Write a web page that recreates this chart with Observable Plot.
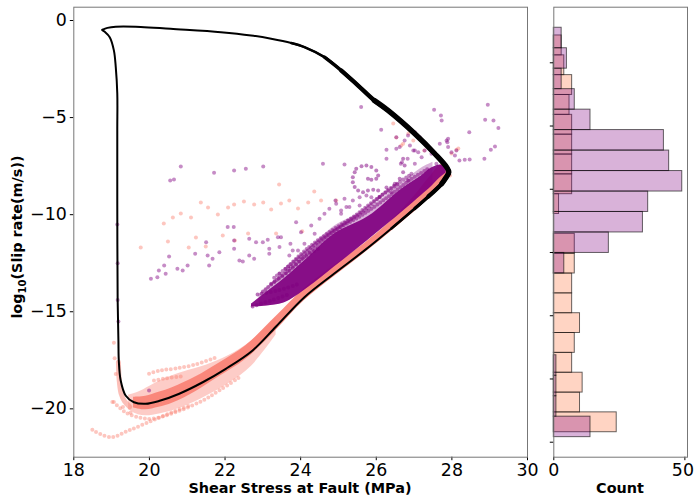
<!DOCTYPE html>
<html><head><meta charset="utf-8">
<script src="https://cdn.jsdelivr.net/npm/d3@7"></script>
<script src="https://cdn.jsdelivr.net/npm/@observablehq/plot@0.6"></script>
<style>
body{margin:0;background:#fff;}
#wrap{position:relative;width:694px;height:499px;overflow:hidden;font-family:"DejaVu Sans",sans-serif;}
#main{position:absolute;left:0;top:0;}
#hist{position:absolute;left:540px;top:0;}
svg{overflow:visible}
</style></head><body><div id="wrap"><div id="main"></div><div id="hist"></div></div>
<script>
// ---- axis ticks / labels ----
const xTicks = [18, 20, 22, 24, 26, 28, 30];
const yTicks = [0, -5, -10, -15, -20];
const xLabel = "Shear Stress at Fault (MPa)";
const yLabelParts = ["log", "10", "(Slip rate(m/s))"];
const histLabel = "Count";
const histXTicks = [0, 50];
const histYTicks = [0, 1, 2, 3, 4, 5, 6];

// ---- limit cycle (black) ----
const cycleX = [18.75, 18.89, 19.11, 19.77, 20.56, 21.89, 22.69, 23.22, 23.75, 24.10, 24.63, 25.07, 25.52, 25.95, 26.31, 27.02, 27.55, 27.86, 27.92, 27.83, 27.73, 27.38, 27.02, 26.40, 25.69, 24.89, 24.10, 23.35, 22.73, 22.02, 21.41, 20.79, 20.25, 19.90, 19.59, 19.37, 19.24, 19.19, 19.18, 19.16, 19.15, 19.15, 19.15, 19.11, 19.06, 18.95, 18.81, 18.75];
const cycleY = [-0.48, -0.38, -0.32, -0.33, -0.43, -0.60, -0.77, -0.94, -1.16, -1.37, -1.89, -2.57, -3.35, -4.12, -4.63, -5.83, -6.86, -7.55, -7.81, -8.13, -8.41, -9.06, -9.68, -10.71, -11.84, -13.03, -14.25, -15.76, -16.99, -17.94, -18.63, -19.22, -19.60, -19.74, -19.66, -19.31, -18.54, -17.51, -16.48, -14.42, -9.27, -5.66, -3.76, -2.40, -1.54, -0.86, -0.57, -0.48];

// ---- salmon run ----
const salmonBandX  = [19.58, 19.90, 20.25, 20.62, 21.23, 21.84, 22.55, 23.35, 24.10, 24.89, 25.69, 26.40, 27.02, 27.38, 27.73, 27.92];
const salmonBandLo = [-19.95, -20.05, -19.92, -19.70, -19.10, -18.35, -17.45, -15.95, -14.42, -13.18, -11.98, -10.85, -9.83, -9.20, -8.53, -7.92];
const salmonBandHi = [-19.40, -19.35, -19.15, -18.90, -18.35, -17.65, -16.75, -15.25, -13.80, -12.62, -11.48, -10.30, -9.01, -8.14, -7.41, -7.57];
const salmonHazeX  = [19.45, 19.70, 20.00, 20.40, 20.90, 21.50, 22.10, 22.70, 23.35];
const salmonHazeLo = [-20.05, -20.30, -20.35, -20.20, -19.90, -19.35, -18.70, -17.80, -16.20];
const salmonHazeHi = [-19.30, -19.15, -18.85, -18.45, -18.10, -17.75, -17.25, -16.50, -15.30];
const salmonBendX = [19.18, 19.20, 19.25, 19.34, 19.48];
const salmonBendY = [-17.6, -18.5, -19.2, -19.6, -19.9];
const salmonLowX = [19.06, 19.37, 19.75, 20.08, 20.70, 21.41, 21.85, 22.42];
const salmonLowY = [-19.65, -20.19, -20.45, -20.51, -20.17, -19.57, -19.05, -18.33];
const salmonTailX = [18.49, 18.97, 19.46, 20.08, 20.61, 21.10];
const salmonTailY = [-21.08, -21.46, -21.11, -20.60, -20.17, -19.80];
const salmonUp1X = [19.99, 20.30, 20.70, 21.23, 21.76];
const salmonUp1Y = [-18.19, -18.02, -17.92, -17.71, -17.35];
const salmonUp2X = [20.12, 20.43, 20.83];
const salmonUp2Y = [-18.54, -18.43, -18.33];
const salmonDotX = [21.36, 21.55, 21.81, 22.08, 22.24, 22.50, 22.77, 23.01, 23.22, 23.43, 23.48, 23.70, 23.93, 24.20, 24.36, 24.54, 24.94, 20.38, 20.62, 20.83, 21.10, 19.77, 20.49, 21.04, 21.23, 21.49, 21.94, 22.61, 23.35, 24.04, 22.26, 26.45, 26.85, 26.53, 26.66, 26.98, 27.27, 28.17, 27.99, 26.71, 28.12, 27.95, 19.06, 19.11, 19.02, 19.08, 19.30, 19.50];
const salmonDotY = [-9.37, -9.63, -9.99, -9.63, -9.47, -9.32, -9.47, -9.37, -9.73, -8.44, -9.42, -9.27, -9.68, -9.37, -8.81, -9.27, -9.27, -10.45, -10.14, -9.94, -10.14, -11.69, -11.38, -11.69, -11.17, -11.64, -11.07, -10.97, -10.97, -10.86, -11.33, -5.30, -5.82, -6.02, -6.44, -6.18, -6.69, -6.59, -6.85, -6.35, -6.66, -7.98, -16.6, -18.2, -19.65, -17.4, -19.9, -20.2];

// ---- purple run ----
const purpleBandX  = [22.70, 23.10, 23.56, 24.20, 24.89, 25.79, 26.66, 27.20, 27.46, 27.72, 27.85];
const purpleBandLo = [-14.75, -14.70, -14.55, -13.75, -12.70, -11.30, -9.90, -9.00, -8.55, -8.05, -7.85];
const purpleBandHi = [-14.60, -14.00, -13.30, -12.20, -11.00, -10.10, -8.70, -8.00, -7.60, -7.45, -7.65];
const purpleHazeX  = [22.90, 23.60, 24.20, 24.89, 25.79, 26.66, 27.20, 27.50];
const purpleHazeLo = [-14.75, -14.50, -13.75, -12.70, -11.30, -9.90, -9.00, -8.50];
const purpleHazeHi = [-14.10, -12.90, -11.80, -10.60, -9.70, -8.40, -7.60, -7.30];
const haze1X = [23.0, 23.6, 24.2, 24.9, 25.6, 26.3, 26.9, 27.4], haze1Y = [-13.95, -13.0, -12.0, -10.85, -10.05, -9.1, -8.2, -7.6];
const haze2X = [23.3, 23.9, 24.5, 25.1, 25.7, 26.3, 26.9], haze2Y = [-13.25, -12.3, -11.35, -10.55, -9.75, -8.75, -7.95];
const haze3X = [23.6, 24.2, 24.8, 25.4, 26.0, 26.6], haze3Y = [-12.8, -11.7, -10.85, -10.1, -9.2, -8.4];
const finger1X = [22.73, 23.22, 23.70], finger1Y = [-14.73, -14.42, -14.10];
const finger2X = [22.86, 23.40, 23.90], finger2Y = [-14.11, -13.90, -13.60];
const finger3X = [23.22, 23.66, 24.10, 24.50], finger3Y = [-13.56, -12.96, -12.19, -11.70];
const spiralX = [25.78, 25.87, 26.00, 26.05, 26.00, 25.87, 25.74, 25.61, 25.47, 25.43, 25.38, 25.38, 25.43, 25.52, 25.65, 25.78, 25.92, 26.05, 26.27, 26.49, 26.62, 26.71, 26.75, 26.71];
const spiralY = [-8.15, -8.20, -8.15, -7.98, -7.72, -7.55, -7.47, -7.50, -7.64, -7.81, -8.07, -8.33, -8.58, -8.75, -8.84, -8.75, -8.72, -8.75, -8.60, -8.41, -8.15, -7.81, -7.47, -7.12];
const purpleDotX = [25.60, 26.13, 27.53, 27.71, 27.73, 28.95, 28.88, 29.10, 29.23, 28.46, 27.90, 27.88, 29.14, 29.03, 28.86, 28.34, 28.20, 28.47, 28.08, 27.99, 27.90, 26.53, 26.65, 26.27, 26.75, 27.02, 24.59, 25.16,
  20.83, 21.71, 22.24, 22.55, 23.01, 20.55, 20.65, 22.07, 22.23,
  20.04, 20.21, 20.25, 20.39, 20.52, 20.43, 20.74, 20.88, 21.01, 21.21, 21.54, 21.58, 21.85, 22.38, 22.64, 22.77, 23.17, 23.44, 23.70,
  21.50, 21.67, 22.24, 22.24, 22.47, 22.64, 22.82, 23.00, 23.13, 23.17, 23.40, 23.48, 23.44, 23.73, 23.88, 24.01, 24.10, 23.93, 23.79, 24.28, 24.37, 24.50, 24.63, 24.76, 24.94, 25.07, 25.16, 25.29, 25.38, 25.56, 25.74,
  27.68, 27.86, 28.12, 26.53, 26.27, 26.62, 26.84, 27.02, 27.15, 26.89, 26.98, 27.11, 26.83, 26.68, 24.92, 25.07, 25.21, 25.56, 25.87, 26.09, 26.40, 26.84, 26.93, 27.02, 27.20, 27.28, 27.46, 27.59,
  19.15, 19.16, 19.16, 19.18, 19.99];
const purpleDotY = [-4.46, -5.63, -4.60, -4.89, -5.15, -4.34, -5.11, -5.15, -5.53, -5.75, -6.09, -6.27, -6.49, -6.66, -7.12, -7.17, -7.21, -7.16, -6.95, -6.78, -6.52, -6.61, -7.38, -7.12, -6.18, -6.69, -7.38, -7.42,
  -7.52, -7.84, -7.72, -7.64, -7.52, -8.24, -8.19, -10.64, -10.64,
  -13.30, -13.22, -12.87, -12.62, -12.15, -13.04, -12.79, -12.87, -12.62, -12.01, -12.10, -12.62, -11.93, -12.36, -12.10, -12.27, -12.01, -13.04, -12.10,
  -11.42, -12.27, -11.33, -11.76, -12.41, -11.24, -11.42, -11.42, -11.29, -11.76, -11.16, -11.16, -11.67, -11.50, -10.39, -10.90, -11.50, -11.84, -11.84, -10.56, -10.98, -10.21, -9.95, -9.70, -9.44, -9.95, -9.18, -9.61, -9.27, -9.53, -9.01,
  -6.35, -6.18, -6.69, -6.01, -6.66, -6.52, -5.92, -5.75, -6.01, -6.44, -6.69, -6.78, -7.12, -7.30, -9.27, -9.78, -9.61, -9.10, -9.10, -9.10, -8.84, -8.24, -7.89, -7.38, -7.04, -6.69, -6.86, -7.38,
  -10.5, -12.5, -14.4, -15.5, -19.05];

// ---- histogram (counts bottom to top) ----
const purpleEdges = [0.080, 0.404, 0.727, 1.051, 1.375, 1.699, 2.022, 2.346, 2.670, 2.993, 3.317, 3.641, 3.964, 4.288, 4.612, 4.936, 5.259, 5.583, 5.907, 6.230, 6.554];
const purpleCounts = [14, 1, 1, 1, 0, 0, 0, 0, 4, 21, 34, 36, 49, 44, 42, 14, 8, 3, 5, 3];
const salmonEdges = [0.158, 0.472, 0.785, 1.099, 1.413, 1.727, 2.040, 2.354, 2.668, 2.981, 3.295, 3.609, 3.922, 4.236, 4.550, 4.864, 5.177, 5.491, 5.805, 6.118, 6.432];
const salmonCounts = [24, 10, 11, 7, 8, 10, 7, 7, 8, 8, 0, 2, 7, 7, 7, 7, 6, 7, 4, 3];

// ---- build tables ----
const pts = (X, Y, id) => X.map((x, i) => ({x, y: Y[i], id}));
const band = (X, L, H) => X.map((x, i) => ({x, lo: L[i], hi: H[i]}));
const cycle = pts(cycleX, cycleY, "c");
const salmonLines = [...pts(salmonLowX, salmonLowY, "a"), ...pts(salmonTailX, salmonTailY, "b"), ...pts(salmonUp1X, salmonUp1Y, "c"), ...pts(salmonUp2X, salmonUp2Y, "d")];
const fingers = [...pts(finger1X, finger1Y, "a"), ...pts(finger2X, finger2Y, "b"), ...pts(finger3X, finger3Y, "c")];
const hazeLines = [...pts(haze1X, haze1Y, "a"), ...pts(haze2X, haze2Y, "b"), ...pts(haze3X, haze3Y, "c")];
const fmt = d => d < 0 ? "\u2212" + (-d) : String(d);
const font = {fontFamily: "DejaVu Sans", fontSize: "17.4px", color: "#000", background: "transparent", overflow: "visible"};
const cr = "catmull-rom";
const dotted = {strokeWidth: 4, strokeDasharray: "0 4.5", strokeLinecap: "round", curve: cr};

const main = Plot.plot({
  width: 540, height: 499,
  marginLeft: 73.3, marginRight: 13, marginTop: 6.7, marginBottom: 42.3,
  style: font,
  x: {domain: [18, 30], ticks: xTicks, tickSize: 3.5, tickPadding: 3, label: null, tickFormat: fmt},
  y: {domain: [-22.49, 0.685], ticks: yTicks, tickSize: 3.5, tickPadding: 3.5, label: null, tickFormat: fmt},
  marks: [
    Plot.areaY(band(salmonHazeX, salmonHazeLo, salmonHazeHi), {x: "x", y1: "lo", y2: "hi", fill: "salmon", fillOpacity: 0.4, curve: cr}),
    Plot.areaY(band(salmonBandX, salmonBandLo, salmonBandHi), {x: "x", y1: "lo", y2: "hi", fill: "salmon", fillOpacity: 0.9, curve: cr}),
    Plot.line(pts(salmonBendX, salmonBendY, "s"), {x: "x", y: "y", stroke: "salmon", strokeOpacity: 0.5, strokeWidth: 5, curve: cr}),
    Plot.line(salmonLines, {x: "x", y: "y", z: "id", stroke: "salmon", strokeOpacity: 0.45, ...dotted}),
    Plot.dot(pts(salmonDotX, salmonDotY, "s"), {x: "x", y: "y", r: 2, fill: "salmon", fillOpacity: 0.45, stroke: "none"}),
    Plot.areaY(band(purpleHazeX, purpleHazeLo, purpleHazeHi), {x: "x", y1: "lo", y2: "hi", fill: "purple", fillOpacity: 0.3, curve: cr}),
    Plot.line(hazeLines, {x: "x", y: "y", z: "id", stroke: "purple", strokeOpacity: 0.5, strokeWidth: 4, strokeDasharray: "0 3.6", strokeLinecap: "round", curve: cr}),
    Plot.areaY(band(purpleBandX, purpleBandLo, purpleBandHi), {x: "x", y1: "lo", y2: "hi", fill: "purple", fillOpacity: 0.92, curve: cr}),
    Plot.line(fingers, {x: "x", y: "y", z: "id", stroke: "purple", strokeOpacity: 0.55, ...dotted}),
    Plot.dot(pts(purpleDotX, purpleDotY, "p"), {x: "x", y: "y", r: 2, fill: "purple", fillOpacity: 0.45, stroke: "none"}),
    Plot.dot(pts(spiralX, spiralY, "p"), {x: "x", y: "y", r: 2, fill: "purple", fillOpacity: 0.5, stroke: "none"}),
    Plot.line(cycle, {x: "x", y: "y", stroke: "black", strokeWidth: 2, curve: cr}),
    Plot.line(cycle.slice(8, 24), {x: "x", y: "y", stroke: "black", strokeWidth: 2.6, curve: cr}),
    Plot.line(cycle.slice(10, 23), {x: "x", y: "y", stroke: "black", strokeWidth: 3.4, curve: cr}),
    Plot.line(cycle.slice(11, 22), {x: "x", y: "y", stroke: "black", strokeWidth: 4.3, curve: cr}),
    Plot.line(cycle.slice(13, 21), {x: "x", y: "y", stroke: "black", strokeWidth: 5.3, curve: cr, strokeLinejoin: "round"}),
    Plot.frame({stroke: "#777", strokeWidth: 1})
  ]
});
document.getElementById("main").appendChild(main);

const bars = (E, C) => C.map((n, i) => ({y1: E[i], y2: E[i + 1], n})).filter(d => d.n > 0);
const hist = Plot.plot({
  width: 154, height: 499,
  marginLeft: 13.3, marginRight: 7, marginTop: 6.7, marginBottom: 42.3,
  style: font,
  x: {domain: [0, 51], ticks: histXTicks, tickSize: 3.5, tickPadding: 3, label: null},
  y: {domain: [-0.237, 6.879], ticks: histYTicks, tickSize: 3.5, tickFormat: () => "", label: null},
  marks: [
    Plot.rect(bars(salmonEdges, salmonCounts), {x1: () => 0, x2: "n", y1: "y1", y2: "y2", fill: "lightsalmon", fillOpacity: 0.45, stroke: "black", strokeOpacity: 0.6, strokeWidth: 1}),
    Plot.rect(bars(purpleEdges, purpleCounts), {x1: () => 0, x2: "n", y1: "y1", y2: "y2", fill: "purple", fillOpacity: 0.3, stroke: "black", strokeOpacity: 0.6, strokeWidth: 1}),
    Plot.frame({stroke: "#777", strokeWidth: 1})
  ]
});
document.getElementById("hist").appendChild(hist);
// keep the "50" tick label inside the page edge
d3.select(hist).selectAll("text").filter(function() { return this.textContent === "50"; }).attr("dx", -2);

// axis titles
const ms = d3.select(main);
ms.append("text").attr("x", 300).attr("y", 493).attr("text-anchor", "middle")
  .style("font-weight", "bold").style("font-size", "14.4px").text(xLabel);
const yl = ms.append("text").attr("transform", "translate(17,237) rotate(-90)").attr("text-anchor", "middle").attr("dy", "0.35em")
  .style("font-weight", "bold").style("font-size", "14.4px");
yl.append("tspan").text(yLabelParts[0]);
yl.append("tspan").attr("dy", 3.5).style("font-size", "10px").text(yLabelParts[1]);
yl.append("tspan").attr("dy", -3.5).text(yLabelParts[2]);
d3.select(hist).append("text").attr("x", 80).attr("y", 493).attr("text-anchor", "middle")
  .style("font-weight", "bold").style("font-size", "14.4px").text(histLabel);
</script></body></html>
